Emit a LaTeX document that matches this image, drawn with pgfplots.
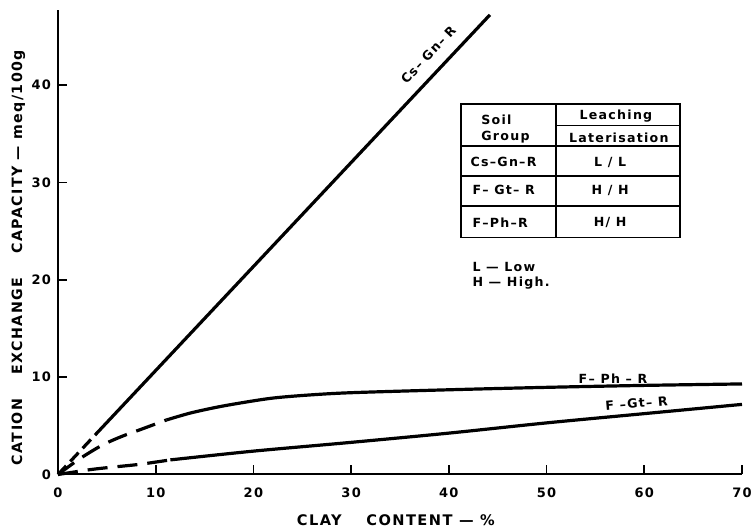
\documentclass[border=0pt]{standalone}
\usepackage{fontspec}
\setmainfont[LetterSpace=10]{DejaVu Sans}
\usepackage{pgfplots}
\pgfplotsset{compat=1.18}

\begin{document}
\begin{tikzpicture}[font=\fontsize{6.3}{7.5}\selectfont\bfseries]
\useasboundingbox (-29pt,-27.75pt) rectangle (349pt,237.25pt);
\begin{axis}[
  scale only axis,
  width=342pt, height=232.25pt,
  xmin=0, xmax=70, ymin=0, ymax=47.7,
  axis lines*=left,
  axis line style={line width=1pt},
  xtick={0,10,...,70}, ytick={0,10,...,40},
  tick align=inside,
  major tick length=4.5pt,
  tick style={line width=0.8pt, black},
  /pgf/number format/assume math mode=true,
  ticklabel style={font=\fontsize{6.5}{7}\selectfont\bfseries},
  xticklabel style={yshift=-3pt},
  yticklabel style={xshift=0pt},
  every axis x label/.style={at={(axis description cs:0.494,-0.099)}, anchor=center},
  every axis y label/.style={at={(axis description cs:-0.058,0.467)}, anchor=center, rotate=90},
  xlabel={\fontsize{7.3}{8}\selectfont CLAY\hspace{9pt} CONTENT — \%},
  ylabel={\fontsize{7.1}{8}\selectfont CATION\hspace{9pt} EXCHANGE\hspace{9pt} CAPACITY — meq/100g},
  clip=false,
]
% Cs-Gn-R
\addplot[line width=1.6pt, dash pattern=on 6pt off 3pt] coordinates {(0,0) (3.8,4.06)};
\addplot[line width=1.6pt] coordinates {(3.8,4.06) (44.2,47.2)};
% F-Ph-R
\addplot[line width=1.6pt, smooth, dash pattern=on 10pt off 5pt] coordinates {
  (0,0) (2.2,1.6) (4.5,3.0) (6.5,3.9) (8.4,4.6) (11.1,5.6)};
\addplot[line width=1.6pt, smooth] coordinates {
  (11.1,5.6) (13.5,6.3) (16.2,6.9) (19,7.4) (22,7.85) (25.5,8.15) (30,8.4)
  (40,8.7) (50,8.95) (60,9.15) (70,9.3)};
% F-Gt-R
\addplot[line width=1.6pt, smooth, dash pattern=on 10pt off 5pt] coordinates {
  (0,0) (3.3,0.5) (5.5,0.75) (8.4,1.05) (11.5,1.5)};
\addplot[line width=1.6pt, smooth] coordinates {
  (11.5,1.5) (20,2.4) (30,3.3) (40,4.25) (50,5.3) (60,6.25) (70,7.2)};

% curve labels
\node[rotate=46.8, inner sep=0pt] at (axis cs:37.9,43.1) {Cs–\kern2.5pt Gn–\kern2.5pt R};
\node at (axis cs:56.8,9.85) {F– Ph – R};
\node[rotate=5] at (axis cs:59.2,7.3) {F –Gt– R};

% soil group table
\draw[line width=0.6pt] (axis cs:41.25,38.04) rectangle (axis cs:63.66,24.31);
\draw[line width=0.6pt] (axis cs:50.97,38.04) -- (axis cs:50.97,24.31);
\draw[line width=0.6pt] (axis cs:50.97,35.88) -- (axis cs:63.66,35.88);
\draw[line width=0.6pt] (axis cs:41.25,33.73) -- (axis cs:63.66,33.73);
\draw[line width=0.6pt] (axis cs:41.25,30.65) -- (axis cs:63.66,30.65);
\draw[line width=0.6pt] (axis cs:41.25,27.57) -- (axis cs:63.66,27.57);
\node[anchor=west] at (axis cs:42.6,36.4) {Soil};
\node[anchor=west] at (axis cs:42.6,34.6) {Group};
\node at (axis cs:57.1,36.8) {Leaching};
\node at (axis cs:57.4,34.6) {Laterisation};
\node[anchor=west] at (axis cs:41.5,32.08) {Cs–Gn–R};
\node[anchor=west] at (axis cs:41.7,29.2) {F– Gt– R};
\node[anchor=west] at (axis cs:41.7,25.85) {F–Ph–R};
\node at (axis cs:56.5,32.08) {L / L};
\node at (axis cs:56.5,29.2) {H / H};
\node at (axis cs:56.5,25.85) {H/ H};
\node[anchor=west] at (axis cs:41.7,21.33) {L — Low};
\node[anchor=west] at (axis cs:41.7,19.63) {H — High.};
\end{axis}
\end{tikzpicture}
\end{document}
